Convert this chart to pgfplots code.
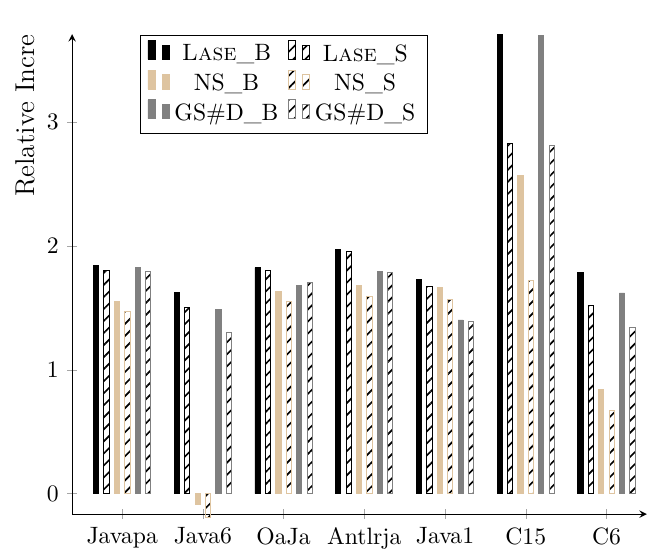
\documentclass[border=0pt]{standalone}
\usepackage{pgfplots}
\pgfplotsset{compat=1.18}
\usepackage{pgfplotstable}
\usetikzlibrary{patterns.meta}
\definecolor{tanc}{RGB}{222,196,160}
\definecolor{grayc}{RGB}{128,128,128}

\pgfplotstableread{
x LB LS NB NS GB GS
0 1.845 1.80 1.555 1.47 1.824 1.79
1 1.625 1.50 -0.09 -0.19 1.49 1.30
2 1.824 1.80 1.633 1.553 1.684 1.703
3 1.974 1.952 1.684 1.59 1.794 1.783
4 1.732 1.67 1.663 1.571 1.402 1.392
5 3.71 2.825 2.567 1.72 3.70 2.814
6 1.785 1.523 0.84 0.67 1.62 1.34
}\data

\tikzset{hatch/.style={pattern={Lines[angle=45,distance=3.6pt,line width=0.7pt]}, pattern color=black}}

\begin{document}
\begin{tikzpicture}
\begin{axis}[
  scale only axis, width=243pt, height=203pt,
  axis lines=left,
  ybar=2.2pt, bar width=2.2pt,
  xmin=-0.62, xmax=6.5, ymin=-0.165, ymax=3.71,
  xtick={0,...,6},
  xticklabels={Javapa,Java6,OaJa,Antlrja,Java1,C15,C6},
  ytick={0,1,2,3},
  tick align=center,
  major tick style={gray!70},
  clip=false,
  ylabel={Relative Incre},
  ylabel style={at={(axis description cs:-0.0817,0.83)}, anchor=center, font=\fontsize{11.5}{13}\selectfont},
  legend columns=2,
  legend cell align=center,
  legend style={at={(0.118,0.999)}, anchor=north west, draw=black,
    /tikz/every even column/.append style={column sep=2pt}},
]
\addplot[fill=black, draw=black] table[x=x, y=LB] {\data};
\addlegendentry{\textsc{Lase}\_B}
\addplot[draw=black, hatch] table[x=x, y=LS] {\data};
\addlegendentry{\textsc{Lase}\_S}
\addplot[fill=tanc, draw=tanc] table[x=x, y=NB] {\data};
\addlegendentry{NS\_B}
\addplot[draw=tanc, hatch] table[x=x, y=NS] {\data};
\addlegendentry{NS\_S}
\addplot[fill=grayc, draw=grayc] table[x=x, y=GB] {\data};
\addlegendentry{GS\#D\_B}
\addplot[draw=grayc, hatch] table[x=x, y=GS] {\data};
\addlegendentry{GS\#D\_S}
\end{axis}
\path (current axis.south west) ++(-30.5pt,-17pt);
\path (current axis.north east) ++(0.5pt,14.4pt);
\end{tikzpicture}
\end{document}
